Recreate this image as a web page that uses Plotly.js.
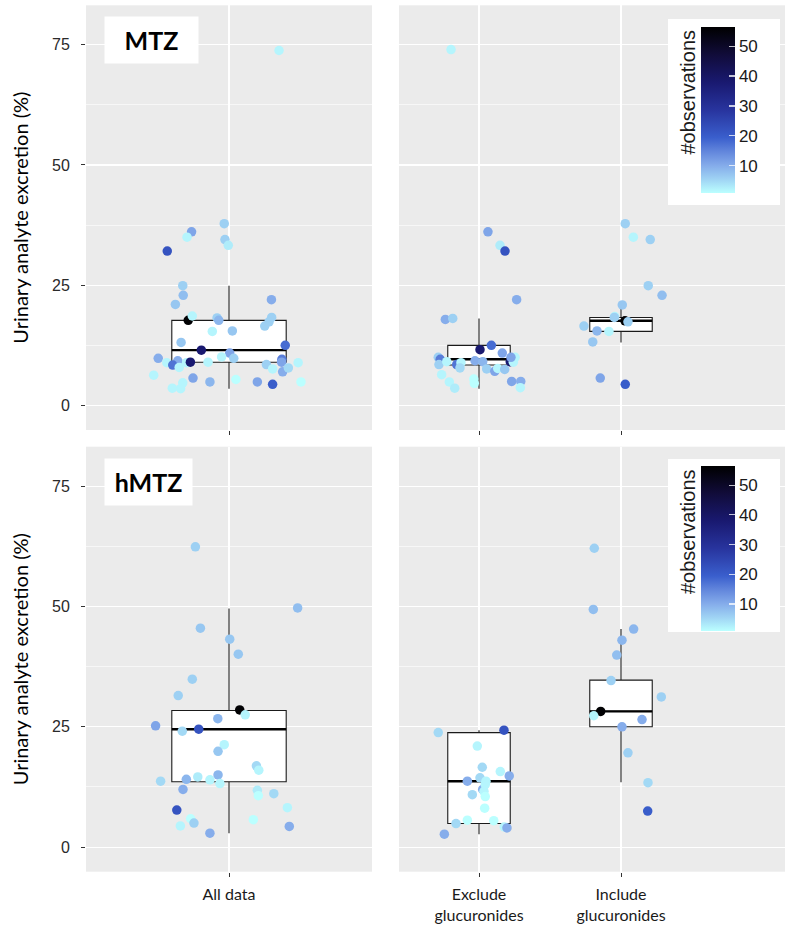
<!DOCTYPE html>
<html><head><meta charset="utf-8">
<script src="https://cdn.plot.ly/plotly-3.0.1.min.js"></script>
<style>html,body{margin:0;padding:0;background:#fff}#chart{width:785px;height:931px}</style>
</head><body><div id="chart"></div>
<script>
// ---------------- data ----------------
const panelLabels = ['MTZ', 'hMTZ'];
const allCategories = ['All data'];
const splitCategories = ['Exclude<br>glucuronides', 'Include<br>glucuronides'];
const yTickValues = [0, 25, 50, 75];
const colorbarTicks = [10, 20, 30, 40, 50];
const obsRange = [1, 56.5];
const yTitle = 'Urinary analyte excretion (%)';
const colorTitle = '#observations';

// MTZ – all data
const mtzAllValues = [73.8, 37.8, 36.1, 35.0, 32.1, 34.5, 33.3, 24.9, 22.9, 21.0, 22.0, 17.7, 18.6, 18.2, 17.7, 18.3, 17.4, 16.5, 15.4, 15.5, 13.1, 11.5, 12.5, 10.9, 9.8, 10.1, 9.8, 8.9, 9.3, 8.4, 7.9, 8.9, 9.0, 9.0, 9.6, 9.0, 8.5, 7.6, 7.0, 7.8, 8.9, 6.3, 5.7, 4.9, 5.4, 4.9, 4.4, 4.9, 4.7, 3.6, 3.5];
const mtzAllJitter = [0.21, -0.02, -0.157, -0.176, -0.259, -0.017, -0.003, -0.194, -0.192, -0.225, 0.178, -0.171, -0.154, -0.05, -0.043, 0.179, 0.168, 0.15, -0.07, 0.014, -0.201, -0.116, 0.236, 0.003, 0.02, -0.031, -0.297, -0.261, -0.215, -0.236, -0.209, -0.178, -0.162, -0.088, 0.222, 0.221, 0.157, 0.183, 0.225, 0.249, 0.29, -0.316, -0.151, -0.08, 0.029, 0.119, 0.183, 0.302, -0.194, -0.238, -0.203];
const mtzAllObs = [2, 6, 11, 2, 22, 6, 3, 6, 8, 7, 10, 56, 2, 6, 9, 6, 6, 6, 2, 7, 7, 38, 18, 11, 6, 2, 10, 2, 10, 17, 2, 2, 38, 2, 16, 11, 6, 2, 10, 5, 2, 2, 11, 9, 1, 11, 20, 1, 2, 2, 2];

// MTZ – exclude glucuronides
const mtzExclValues = [74.0, 36.1, 33.3, 32.1, 22.0, 17.9, 18.1, 11.6, 12.5, 10.9, 10.0, 9.6, 8.5, 9.1, 8.5, 8.9, 7.8, 9.3, 9.1, 7.6, 7.1, 7.7, 7.5, 9.1, 9.0, 10.0, 10.0, 6.4, 4.9, 3.6, 5.5, 4.6, 5.0, 5.0, 3.7];
const mtzExclJitter = [-0.197, 0.063, 0.148, 0.183, 0.265, -0.237, -0.185, 0.007, 0.087, 0.164, -0.287, -0.273, -0.282, -0.227, -0.157, -0.127, -0.134, -0.028, 0.026, 0.054, 0.111, 0.132, 0.181, 0.22, 0.242, 0.254, 0.225, -0.263, -0.209, -0.171, -0.037, -0.033, 0.23, 0.294, 0.291];
const mtzExclObs = [2, 11, 3, 22, 10, 10, 6, 38, 18, 11, 6, 16, 6, 2, 17, 2, 5, 10, 9, 6, 11, 2, 7, 38, 2, 2, 11, 2, 2, 3, 1, 1, 11, 10, 2];

// MTZ – include glucuronides
const mtzInclValues = [37.8, 35.0, 34.5, 24.9, 22.9, 20.9, 18.5, 18.3, 17.6, 17.4, 16.5, 15.5, 15.4, 13.2, 5.7, 4.4];
const mtzInclJitter = [0.03, 0.087, 0.206, 0.192, 0.289, 0.009, -0.044, -0.047, 0.028, 0.049, -0.261, -0.169, -0.085, -0.199, -0.146, 0.03];
const mtzInclObs = [6, 2, 6, 6, 8, 7, 2, 6, 56, 6, 6, 9, 2, 7, 11, 20];

// hMTZ – all data
const hmtzAllValues = [62.4, 49.7, 45.5, 43.2, 40.1, 34.9, 31.5, 28.5, 27.5, 26.7, 25.2, 24.1, 24.5, 21.3, 19.9, 16.9, 16.0, 13.7, 14.1, 14.6, 14.0, 15.0, 13.2, 12.0, 11.8, 10.7, 11.1, 8.2, 7.7, 5.9, 5.0, 4.4, 5.7, 4.3, 2.9];
const hmtzAllJitter = [-0.141, 0.288, -0.12, 0.003, 0.039, -0.154, -0.213, 0.045, 0.068, -0.047, -0.308, -0.196, -0.127, -0.02, -0.046, 0.115, 0.125, -0.287, -0.179, -0.131, -0.08, -0.046, -0.038, -0.193, 0.119, 0.123, 0.188, 0.245, -0.219, -0.161, -0.147, -0.204, 0.102, 0.253, -0.08];
const hmtzAllObs = [6, 8, 7, 7, 7, 6, 6, 56, 2, 9, 11, 5, 22, 2, 7, 5, 2, 5, 9, 3, 2, 9, 2, 10, 3, 1, 5, 2, 22, 1, 6, 2, 1, 10, 10];

// hMTZ – exclude glucuronides
const hmtzExclValues = [23.8, 24.3, 21.0, 16.6, 15.7, 14.8, 13.7, 14.4, 13.7, 12.0, 13.0, 11.6, 10.9, 10.5, 8.1, 5.6, 4.9, 5.5, 4.2, 4.0, 2.7];
const hmtzExclJitter = [-0.287, 0.176, -0.012, 0.023, 0.15, 0.213, -0.082, 0.007, 0.049, 0.026, 0.044, 0.035, -0.047, 0.044, 0.04, -0.082, -0.162, 0.104, 0.178, 0.197, -0.244];
const hmtzExclObs = [5, 22, 2, 5, 2, 10, 10, 5, 2, 10, 2, 2, 5, 1, 1, 1, 5, 1, 2, 10, 10];

// hMTZ – include glucuronides
const hmtzInclValues = [62.1, 49.4, 45.3, 43.0, 39.9, 34.6, 31.2, 28.2, 27.3, 26.5, 25.0, 19.6, 13.4, 7.5];
const hmtzInclJitter = [-0.188, -0.195, 0.089, 0.007, -0.03, -0.07, 0.284, -0.143, -0.192, 0.148, 0.007, 0.049, 0.19, 0.188];
const hmtzInclObs = [6, 8, 9, 9, 8, 6, 6, 56, 2, 10, 10, 6, 5, 20];

// box statistics [lower whisker, Q1, median, Q3, upper whisker]
const mtzAllBox = [3.5, 9.0, 11.5, 17.7, 24.9];
const mtzExclBox = [3.5, 8.4, 9.6, 12.5, 18.1];
const mtzInclBox = [13.1, 15.4, 17.6, 18.3, 20.9];
const hmtzAllBox = [2.9, 13.6, 24.5, 28.4, 49.6];
const hmtzExclBox = [2.7, 4.9, 13.7, 23.8, 24.3];
const hmtzInclBox = [13.5, 25.0, 28.2, 34.7, 45.3];

// ---------------- styling / geometry ----------------
const W = 785, H = 931;
const px = v => v / W;
const py = v => 1 - v / H;
const colorscale = [
  [0.000, '#BBFFFF'], [0.083, '#9fd3f4'], [0.167, '#84abea'], [0.250, '#6286dc'],
  [0.333, '#3A5FCD'], [0.500, '#28349e'], [0.667, '#191970'], [0.833, '#110c3a'], [1.000, '#000000']
];
const leftBoxWidth = 0.48, rightBoxWidth = 0.44;

const traces = [];
function addBoxes(xa, ya, positions, statsList, width) {
  traces.push({
    type: 'box', xaxis: xa, yaxis: ya, x: positions,
    lowerfence: statsList.map(s => s[0]), q1: statsList.map(s => s[1]),
    median: statsList.map(s => s[2]), q3: statsList.map(s => s[3]),
    upperfence: statsList.map(s => s[4]),
    width: width, whiskerwidth: 0, boxpoints: false,
    fillcolor: '#FFFFFF', line: {color: '#1a1a1a', width: 1.1},
    hoverinfo: 'skip', showlegend: false
  });
  positions.forEach((p, i) => {
    traces.push({
      type: 'scatter', mode: 'lines', xaxis: xa, yaxis: ya,
      x: [p - width / 2, p + width / 2], y: [statsList[i][2], statsList[i][2]],
      line: {color: '#000', width: 2.4}, hoverinfo: 'skip', showlegend: false
    });
  });
}
function addPoints(xa, ya, pos, values, jitter, obs, cax) {
  traces.push({
    type: 'scatter', mode: 'markers', xaxis: xa, yaxis: ya,
    x: jitter.map(j => pos + j), y: values,
    marker: {color: obs, coloraxis: cax, size: 9.5, line: {width: 0}},
    showlegend: false
  });
}

addBoxes('x', 'y', [1], [mtzAllBox], leftBoxWidth);
addPoints('x', 'y', 1, mtzAllValues, mtzAllJitter, mtzAllObs, 'coloraxis');
addBoxes('x2', 'y2', [1, 2], [mtzExclBox, mtzInclBox], rightBoxWidth);
addPoints('x2', 'y2', 1, mtzExclValues, mtzExclJitter, mtzExclObs, 'coloraxis');
addPoints('x2', 'y2', 2, mtzInclValues, mtzInclJitter, mtzInclObs, 'coloraxis');
addBoxes('x3', 'y3', [1], [hmtzAllBox], leftBoxWidth);
addPoints('x3', 'y3', 1, hmtzAllValues, hmtzAllJitter, hmtzAllObs, 'coloraxis2');
addBoxes('x4', 'y4', [1, 2], [hmtzExclBox, hmtzInclBox], rightBoxWidth);
addPoints('x4', 'y4', 1, hmtzExclValues, hmtzExclJitter, hmtzExclObs, 'coloraxis2');
addPoints('x4', 'y4', 2, hmtzInclValues, hmtzInclJitter, hmtzInclObs, 'coloraxis2');

const leftDom = [px(86), px(372)], rightDom = [px(399), 1];
const topDom = [py(430), py(5.3)], botDom = [py(871.7), py(446.7)];
const leftRange = [0.4, 1.6], rightRange = [1 - 80 / 142, 2 + 164 / 142];
const yRange = [-5.1, 83.2];
const tickFont = {family: 'Liberation Sans, Arial, sans-serif', size: 16, color: '#2a2a2a'};
const catFont = {family: 'Lato, sans-serif', size: 16, color: '#1a1a1a'};

function xAxis(dom, range, anchor, vals, texts, showLabels) {
  return {domain: dom, range: range, anchor: anchor, tickmode: 'array', tickvals: vals, ticktext: texts,
    showticklabels: showLabels, ticks: 'outside', ticklen: 4, tickwidth: 1, tickcolor: '#333333',
    ticklabelstandoff: 4,
    showgrid: true, gridcolor: '#FFFFFF', gridwidth: 1.2, zeroline: false, showline: false,
    tickfont: catFont, fixedrange: true};
}
function yAxis(dom, anchor, showLabels, title) {
  const a = {domain: dom, range: yRange, anchor: anchor, tickmode: 'array', tickvals: yTickValues,
    showticklabels: showLabels, ticks: showLabels ? 'outside' : '', ticklen: 4, tickwidth: 1, tickcolor: '#333333',
    ticklabelstandoff: 8,
    showgrid: true, gridcolor: '#FFFFFF', gridwidth: 1.2, zeroline: false, showline: false,
    minor: {tickmode: 'array', tickvals: [12.5, 37.5, 62.5], showgrid: true, gridcolor: '#FFFFFF', gridwidth: 0.6, ticks: ''},
    tickfont: tickFont, fixedrange: true};
  if (title) a.title = {text: title, font: {family: 'Lato, sans-serif', size: 20, color: '#000'}, standoff: 17};
  return a;
}

function colorbar(centerPx, lenPx) {
  return {cmin: obsRange[0], cmax: obsRange[1], colorscale: colorscale,
    colorbar: {x: px(701), xanchor: 'left', xref: 'paper', y: py(centerPx), yanchor: 'middle', yref: 'paper',
      len: lenPx, lenmode: 'pixels', thickness: 34, thicknessmode: 'pixels', xpad: 0, ypad: 0,
      outlinewidth: 0, bgcolor: 'rgba(0,0,0,0)', tickmode: 'array', tickvals: colorbarTicks,
      ticks: 'inside', ticklen: 6, tickwidth: 1.2, tickcolor: 'rgba(255,255,255,0.75)',
      tickfont: {family: 'Liberation Sans, Arial, sans-serif', size: 17, color: '#1a1a1a'},
      title: {text: ''}}};
}

const layout = {
  width: W, height: H, margin: {l: 0, r: 0, t: 0, b: 0},
  paper_bgcolor: '#FFFFFF', plot_bgcolor: '#EBEBEB', showlegend: false,
  xaxis: xAxis(leftDom, leftRange, 'y', [1], allCategories, false),
  xaxis2: xAxis(rightDom, rightRange, 'y2', [1, 2], splitCategories, false),
  xaxis3: xAxis(leftDom, leftRange, 'y3', [1], allCategories, true),
  xaxis4: xAxis(rightDom, rightRange, 'y4', [1, 2], splitCategories, true),
  yaxis: yAxis(topDom, 'x', true, yTitle),
  yaxis2: yAxis(topDom, 'x2', false, null),
  yaxis3: yAxis(botDom, 'x3', true, yTitle),
  yaxis4: yAxis(botDom, 'x4', false, null),
  coloraxis: colorbar(109.7, 166),
  coloraxis2: colorbar(548.3, 165),
  shapes: [
    {type: 'rect', xref: 'paper', yref: 'paper', x0: px(668), x1: px(780), y0: py(205), y1: py(19), fillcolor: '#FFFFFF', line: {width: 0}, layer: 'above'},
    {type: 'rect', xref: 'paper', yref: 'paper', x0: px(668), x1: px(780), y0: py(632), y1: py(459), fillcolor: '#FFFFFF', line: {width: 0}, layer: 'above'}
  ],
  annotations: [
    {xref: 'paper', yref: 'paper', x: px(151.2), y: py(40.3), xanchor: 'center', yanchor: 'middle', showarrow: false,
     text: '<b>' + panelLabels[0] + '</b>', bgcolor: '#FFFFFF', width: 93, height: 46, borderpad: 0,
     font: {family: 'Lato, sans-serif', size: 25, color: '#000'}},
    {xref: 'paper', yref: 'paper', x: px(148.5), y: py(481.5), xanchor: 'center', yanchor: 'middle', showarrow: false,
     text: '<b>' + panelLabels[1] + '</b>', bgcolor: '#FFFFFF', width: 87, height: 46, borderpad: 0,
     font: {family: 'Lato, sans-serif', size: 25, color: '#000'}},
    {xref: 'paper', yref: 'paper', x: px(687.5), y: py(27.5), xanchor: 'center', yanchor: 'top', showarrow: false,
     text: colorTitle, textangle: -90, font: {family: 'Liberation Sans, Arial, sans-serif', size: 20, color: '#1a1a1a'}},
    {xref: 'paper', yref: 'paper', x: px(687.5), y: py(467), xanchor: 'center', yanchor: 'top', showarrow: false,
     text: colorTitle, textangle: -90, font: {family: 'Liberation Sans, Arial, sans-serif', size: 20, color: '#1a1a1a'}}
  ]
};

Plotly.newPlot('chart', traces, layout, {displayModeBar: false, staticPlot: true});
</script>
</body></html>
